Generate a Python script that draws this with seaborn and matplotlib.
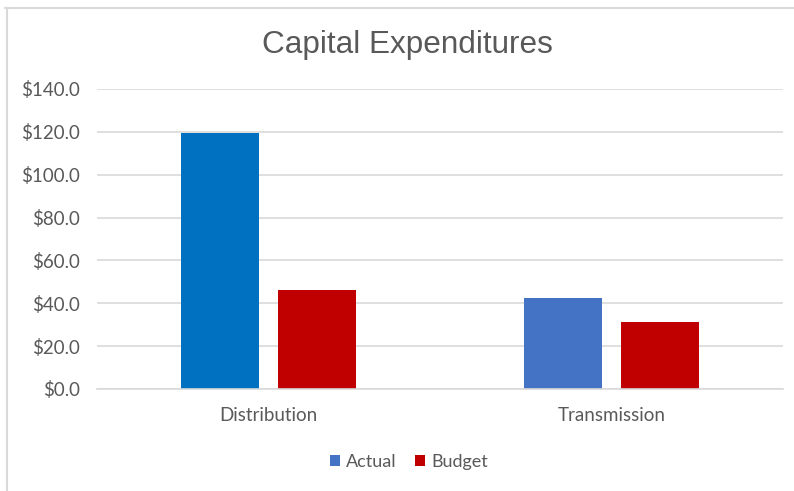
import matplotlib
matplotlib.use("Agg")
import matplotlib.pyplot as plt
import seaborn as sns
import pandas as pd
from matplotlib.lines import Line2D
from matplotlib.ticker import FuncFormatter, MultipleLocator

categories = ["Distribution", "Transmission"]
series = ["Actual", "Budget"]
actual = [119.3, 42.6]
budget = [46.2, 31.4]
title = "Capital Expenditures"

df = pd.DataFrame({
    "category": categories * 2,
    "series": [series[0]] * len(categories) + [series[1]] * len(categories),
    "value": actual + budget,
})

palette = {"Actual": "#4472C4", "Budget": "#C00000"}
highlight_color = "#0070C0"  # Distribution actual bar drawn in a different blue

sns.set_theme(style="white")
plt.rcParams["font.family"] = ["Lato", "DejaVu Sans"]

fig = plt.figure(figsize=(7.94, 4.91), dpi=100)
ax = fig.add_axes([97 / 794, 102 / 491, 686 / 794, 300 / 491])

sns.barplot(data=df, x="category", y="value", hue="series", order=categories,
            hue_order=series, palette=palette, width=0.566, gap=0.206,
            saturation=1, linewidth=0, ax=ax, legend=True)

# recolor first Actual bar
ax.containers[0].patches[0].set_facecolor(highlight_color)

ax.set_ylim(0, 140)
ax.set_xlim(-0.5, 1.5)
ax.yaxis.set_major_locator(MultipleLocator(20))
ax.yaxis.set_major_formatter(FuncFormatter(lambda v, p: f"${v:.1f}"))
ax.grid(axis="y", color="#D9D9D9", linewidth=1.2)
ax.set_axisbelow(True)
for s in ["top", "right", "left"]:
    ax.spines[s].set_visible(False)
ax.spines["bottom"].set_color("#D9D9D9")
ax.spines["bottom"].set_linewidth(1.2)
ax.tick_params(axis="both", length=0, labelsize=13.5, labelcolor="#595959")
ax.tick_params(axis="y", pad=12)
ax.tick_params(axis="x", pad=13)
ax.set_xlabel("")
ax.set_ylabel("")

leg = ax.legend(loc="center", bbox_to_anchor=(409 / 794, 1 - 462 / 491),
                bbox_transform=fig.transFigure, ncol=2, frameon=False,
                fontsize=13, handlelength=0.57, handleheight=0.57,
                handletextpad=0.35, columnspacing=1.0)
for t in leg.get_texts():
    t.set_color("#595959")

fig.text(407 / 794, 1 - 53 / 491, title, ha="center", va="baseline",
         fontsize=22.7, color="#595959", family=["Liberation Sans", "DejaVu Sans"])

fig.add_artist(Line2D([5 / 794, 1], [1 - 8 / 491, 1 - 8 / 491],
                      transform=fig.transFigure, color="#D9D9D9", linewidth=1.5))
fig.add_artist(Line2D([7 / 794, 7 / 794], [0, 1 - 8 / 491],
                      transform=fig.transFigure, color="#D9D9D9", linewidth=1.5))

fig.savefig("out.png", dpi=100, facecolor="white")
